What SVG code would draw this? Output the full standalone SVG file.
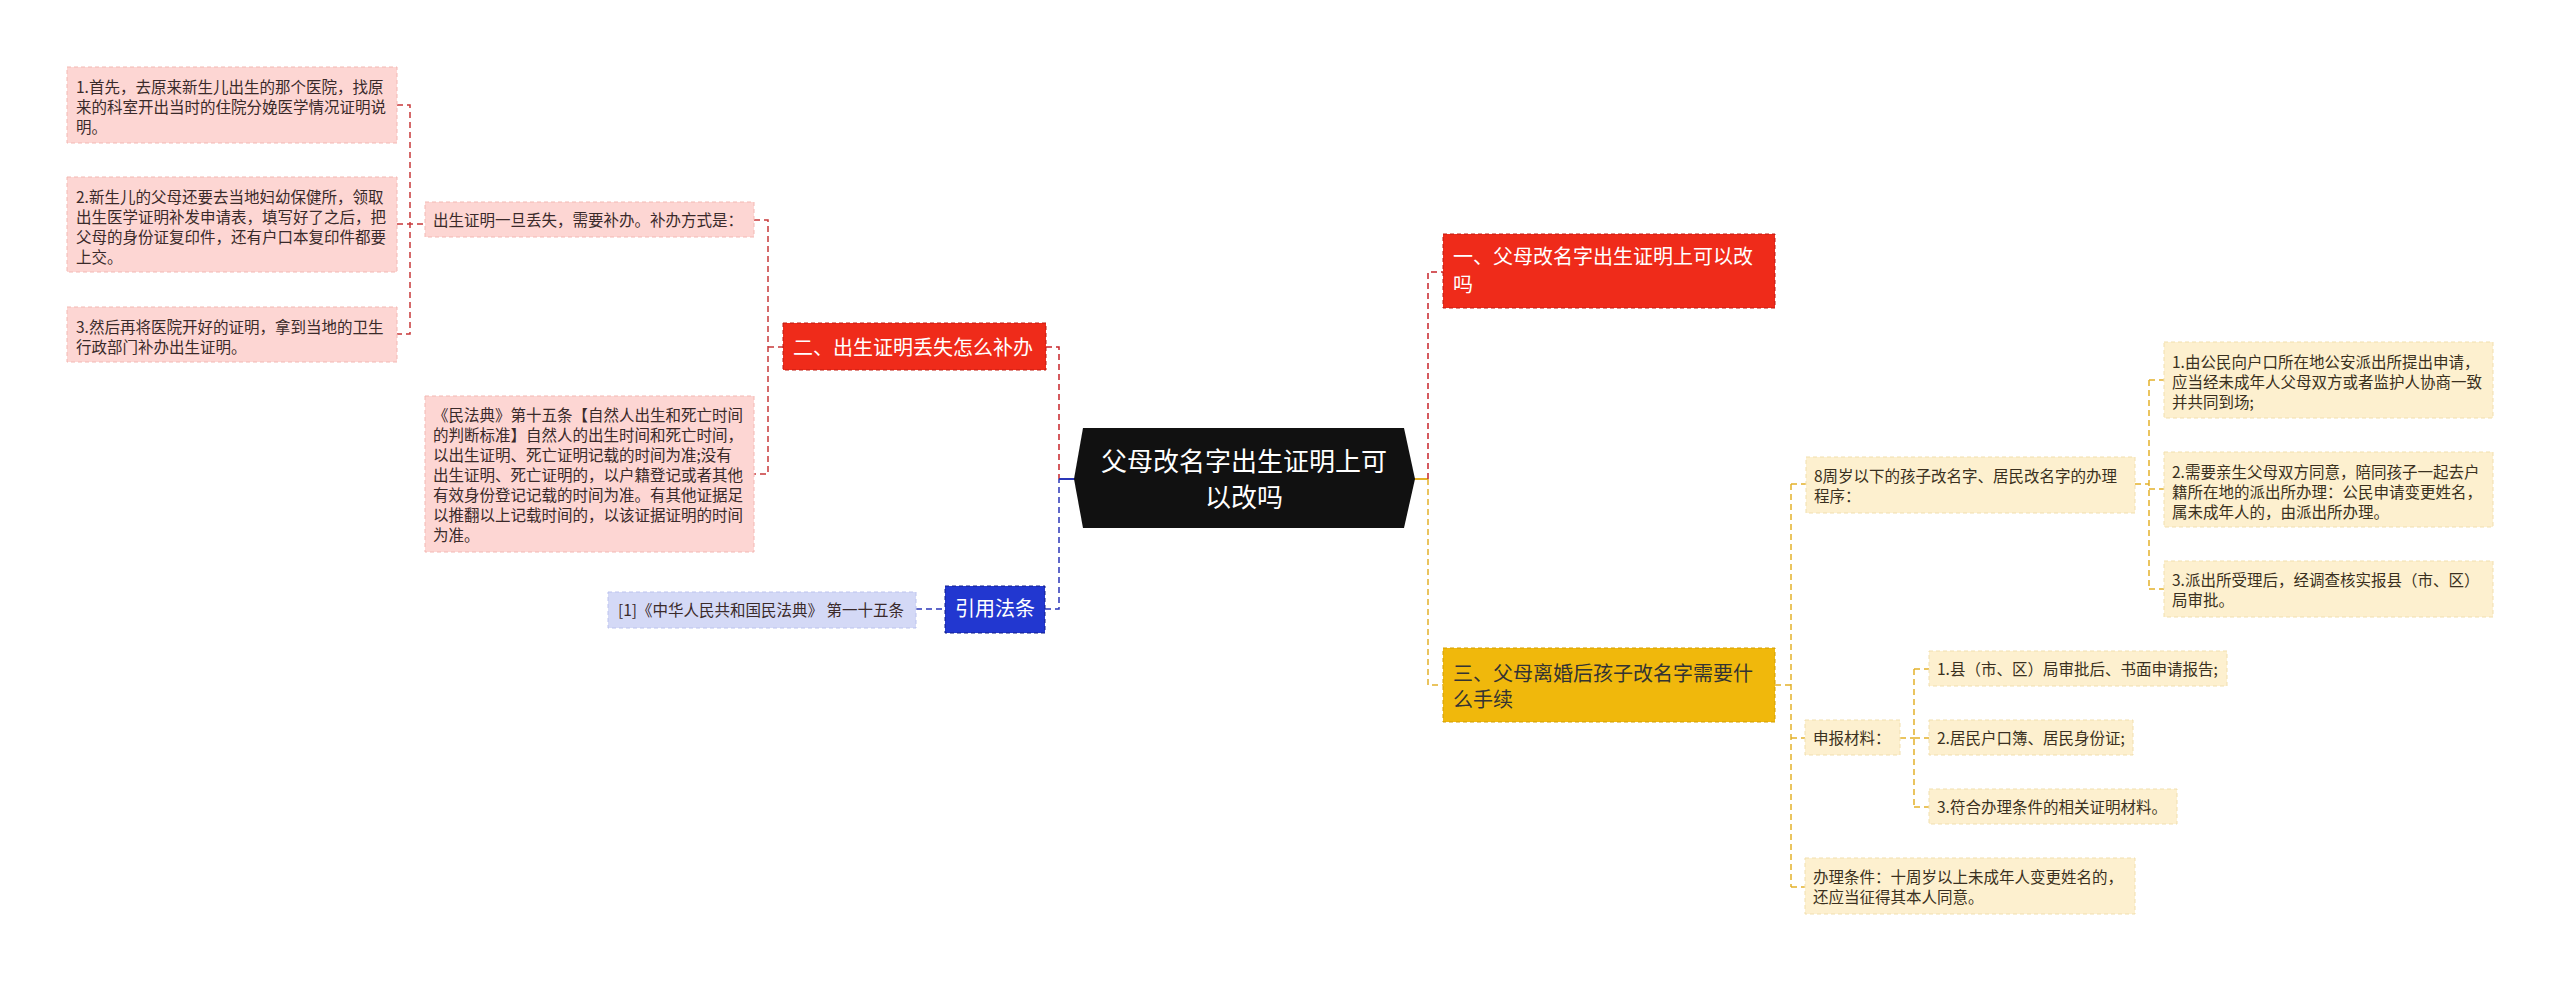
<svg xmlns="http://www.w3.org/2000/svg" width="2560" height="982" viewBox="0 0 2560 982">
<style>
text{font-family:"Noto Sans CJK SC","Microsoft YaHei",sans-serif;}
.s{font-size:15.5px;fill:#3a2a2a;}
.sy{font-size:15.5px;fill:#3a3020;}
.m{font-size:20px;}
.w{fill:#fff;}
.pk{fill:#fdd6d3;stroke:#f3b8b3;stroke-width:1;stroke-dasharray:4 3;}
.yl{fill:#fdf0cf;stroke:#f1dfae;stroke-width:1;stroke-dasharray:4 3;}
.bl{fill:#d4d9f6;stroke:#bcc3ee;stroke-width:1;stroke-dasharray:4 3;}
.rd{fill:#ef2b1a;stroke:#c01a10;stroke-width:1;stroke-dasharray:4 3;}
.yn{fill:#f0b80c;stroke:#d39e00;stroke-width:1;stroke-dasharray:4 3;}
.bn{fill:#2237d0;stroke:#101f8a;stroke-width:1;stroke-dasharray:4 3;}
.c{fill:none;stroke-width:1.5;stroke-dasharray:6 4;}
.cr{stroke:#c8242a;}
.cp{stroke:#c8383a;}
.cb{stroke:#2a36b8;}
.cy{stroke:#e3b12a;}
</style>
<g id="connectors">
<path class="c cp" d="M397,105 H410 V334 H397 M397,224 H425"/>
<path class="c cp" d="M754,220 H768 V474 H754 M768,347 H783"/>
<path class="c cr" d="M1046,347 H1059 V479"/>
<path class="c cb" d="M916,609 H945 M1045,609 H1059 V479"/>
<path fill="none" stroke="#2a36b8" stroke-width="2" d="M1059,479 H1075"/>
<path fill="none" stroke="#e3b12a" stroke-width="2" d="M1414,479 H1428"/>
<path class="c cr" d="M1428,479 V272 H1443"/>
<path class="c cy" d="M1428,479 V685 H1443"/>
<path class="c cy" d="M1775,685 H1791 M1791,484 V887 M1791,484 H1806 M1791,738 H1805 M1791,887 H1805"/>
<path class="c cy" d="M2135,484 H2149 M2149,380 V589 M2149,380 H2164 M2149,489 H2164 M2149,589 H2164"/>
<path class="c cy" d="M1900,738 H1914 M1914,669 V807 M1914,669 H1929 M1914,738 H1929 M1914,807 H1929"/>
</g>
<g id="center">
<polygon points="1083,428 1404,428 1415,479 1404,528 1083,528 1074,479" fill="#111"/>
<text x="1244" y="471" font-size="26" fill="#fff" text-anchor="middle">父母改名字出生证明上可</text>
<text x="1244" y="507" font-size="26" fill="#fff" text-anchor="middle">以改吗</text>
</g>
<g id="n-left1">
<rect class="pk" x="67" y="67" width="330" height="76"/>
<text class="s" x="76" y="92.5">1.首先，去原来新生儿出生的那个医院，找原</text>
<text class="s" x="76" y="112.5">来的科室开出当时的住院分娩医学情况证明说</text>
<text class="s" x="76" y="132.5">明。</text>
</g>
<g id="n-left2">
<rect class="pk" x="67" y="177" width="330" height="95"/>
<text class="s" x="76" y="202.5">2.新生儿的父母还要去当地妇幼保健所，领取</text>
<text class="s" x="76" y="222.5">出生医学证明补发申请表，填写好了之后，把</text>
<text class="s" x="76" y="242.5">父母的身份证复印件，还有户口本复印件都要</text>
<text class="s" x="76" y="262.5">上交。</text>
</g>
<g id="n-left3">
<rect class="pk" x="67" y="307" width="330" height="55"/>
<text class="s" x="76" y="332.5">3.然后再将医院开好的证明，拿到当地的卫生</text>
<text class="s" x="76" y="352.5">行政部门补办出生证明。</text>
</g>
<g id="n-lost">
<rect class="pk" x="425" y="202" width="329" height="35"/>
<text class="s" x="433" y="225.5">出生证明一旦丢失，需要补办。补办方式是：</text>
</g>
<g id="n-law">
<rect class="pk" x="425" y="396" width="329" height="156"/>
<text class="s" x="433" y="420.5">《民法典》第十五条【自然人出生和死亡时间</text>
<text class="s" x="433" y="440.5">的判断标准】自然人的出生时间和死亡时间，</text>
<text class="s" x="433" y="460.5">以出生证明、死亡证明记载的时间为准;没有</text>
<text class="s" x="433" y="480.5">出生证明、死亡证明的，以户籍登记或者其他</text>
<text class="s" x="433" y="500.5">有效身份登记记载的时间为准。有其他证据足</text>
<text class="s" x="433" y="520.5">以推翻以上记载时间的，以该证据证明的时间</text>
<text class="s" x="433" y="540.5">为准。</text>
</g>
<g id="n-two">
<rect class="rd" x="783" y="323" width="263" height="47"/>
<text class="m w" x="793" y="355">二、出生证明丢失怎么补办</text>
</g>
<g id="n-cite">
<rect class="bn" x="945" y="586" width="100" height="47"/>
<text class="m w" x="995" y="616" text-anchor="middle">引用法条</text>
</g>
<g id="n-ref">
<rect class="bl" x="608" y="592" width="308" height="36"/>
<text class="s" x="618" y="615.5" fill="#333">[1]《中华人民共和国民法典》 第一十五条</text>
</g>
<g id="n-one">
<rect class="rd" x="1443" y="234" width="332" height="74"/>
<text class="m w" x="1453" y="264">一、父母改名字出生证明上可以改</text>
<text class="m w" x="1453" y="292">吗</text>
</g>
<g id="n-three">
<rect class="yn" x="1443" y="648" width="332" height="74"/>
<text class="m" x="1453" y="681" fill="#333">三、父母离婚后孩子改名字需要什</text>
<text class="m" x="1453" y="707" fill="#333">么手续</text>
</g>
<g id="n-proc">
<rect class="yl" x="1806" y="457" width="329" height="56"/>
<text class="sy" x="1814" y="481.5">8周岁以下的孩子改名字、居民改名字的办理</text>
<text class="sy" x="1814" y="501.5">程序：</text>
</g>
<g id="n-step1">
<rect class="yl" x="2164" y="342" width="329" height="76"/>
<text class="sy" x="2172" y="367.5">1.由公民向户口所在地公安派出所提出申请，</text>
<text class="sy" x="2172" y="387.5">应当经未成年人父母双方或者监护人协商一致</text>
<text class="sy" x="2172" y="407.5">并共同到场;</text>
</g>
<g id="n-step2">
<rect class="yl" x="2164" y="452" width="329" height="75"/>
<text class="sy" x="2172" y="477.5">2.需要亲生父母双方同意，陪同孩子一起去户</text>
<text class="sy" x="2172" y="497.5">籍所在地的派出所办理：公民申请变更姓名，</text>
<text class="sy" x="2172" y="517.5">属未成年人的，由派出所办理。</text>
</g>
<g id="n-step3">
<rect class="yl" x="2164" y="561" width="329" height="56"/>
<text class="sy" x="2172" y="585.5">3.派出所受理后，经调查核实报县（市、区）</text>
<text class="sy" x="2172" y="605.5">局审批。</text>
</g>
<g id="n-mat">
<rect class="yl" x="1805" y="720" width="95" height="35"/>
<text class="sy" x="1813" y="743.5">申报材料：</text>
</g>
<g id="n-mat1">
<rect class="yl" x="1929" y="651" width="298" height="35"/>
<text class="sy" x="1937" y="674.5">1.县（市、区）局审批后、书面申请报告;</text>
</g>
<g id="n-mat2">
<rect class="yl" x="1929" y="720" width="204" height="35"/>
<text class="sy" x="1937" y="743.5">2.居民户口簿、居民身份证;</text>
</g>
<g id="n-mat3">
<rect class="yl" x="1929" y="789" width="248" height="35"/>
<text class="sy" x="1937" y="812.5">3.符合办理条件的相关证明材料。</text>
</g>
<g id="n-cond">
<rect class="yl" x="1805" y="858" width="330" height="56"/>
<text class="sy" x="1813" y="882.5">办理条件：十周岁以上未成年人变更姓名的，</text>
<text class="sy" x="1813" y="902.5">还应当征得其本人同意。</text>
</g>
</svg>
